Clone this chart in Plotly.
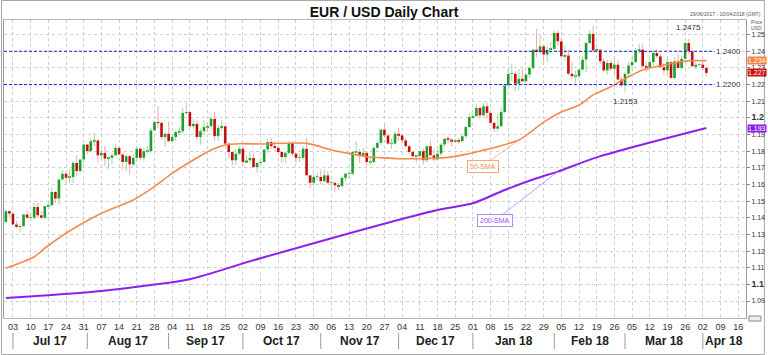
import pandas as pd
import plotly.graph_objects as go

# ---------------- data (EUR/USD daily, 29 Jun 2017 - 3 Apr 2018) ----------------
open_ = [
    1.1375, 1.1440,
    1.1425, 1.1360, 1.1345, 1.1350, 1.1420, 1.1400, 1.1400, 1.1465, 1.1415, 1.1400, 1.1470, 1.1475, 1.1555, 1.1515, 1.1630, 1.1665, 1.1640, 1.1645, 1.1730, 1.1680, 1.1750,
    1.1840, 1.1800, 1.1860, 1.1865, 1.1775, 1.1790, 1.1755, 1.1760, 1.1775, 1.1820, 1.1780, 1.1735, 1.1770, 1.1720, 1.1760, 1.1815, 1.1760, 1.1800, 1.1800, 1.1925, 1.1975, 1.1970, 1.1885,
    1.1905, 1.1860, 1.1885, 1.1915, 1.1920, 1.2030, 1.2035, 1.1950, 1.1965, 1.1885, 1.1920, 1.1945, 1.1950, 1.1995, 1.1890, 1.1940, 1.1950, 1.1845, 1.1795, 1.1745, 1.1785,
    1.1815, 1.1735, 1.1745, 1.1760, 1.1705, 1.1730, 1.1735, 1.1810, 1.1855, 1.1830, 1.1820, 1.1795, 1.1765, 1.1790, 1.1850, 1.1785, 1.1760, 1.1760, 1.1815, 1.1655, 1.1610, 1.1645,
    1.1645, 1.1620, 1.1655, 1.1610, 1.1610, 1.1595, 1.1590, 1.1640, 1.1665, 1.1665, 1.1795, 1.1795, 1.1770, 1.1790, 1.1735, 1.1735, 1.1820, 1.1850, 1.1930, 1.1895, 1.1845, 1.1845,
    1.1905, 1.1895, 1.1865, 1.1830, 1.1795, 1.1770, 1.1770, 1.1800, 1.1745, 1.1830, 1.1775, 1.1750, 1.1785, 1.1840, 1.1875, 1.1870, 1.1860, 1.1865, 1.1860, 1.1890, 1.1945,
    1.2005, 1.2010, 1.2060, 1.2015, 1.2070, 1.2030, 1.1970, 1.1935, 1.1950, 1.2035, 1.2195, 1.2265, 1.2265, 1.2205, 1.2235, 1.2220, 1.2260, 1.2300, 1.2410, 1.2395, 1.2430, 1.2380, 1.2410,
    1.2415, 1.2510, 1.2460, 1.2370, 1.2375, 1.2265, 1.2250, 1.2250, 1.2290, 1.2350, 1.2450, 1.2505, 1.2405, 1.2410, 1.2340, 1.2285, 1.2330, 1.2295, 1.2320, 1.2230,
    1.2195, 1.2265, 1.2315, 1.2335, 1.2405, 1.2410, 1.2310, 1.2305, 1.2335, 1.2390, 1.2370, 1.2305, 1.2285, 1.2335, 1.2240, 1.2340, 1.2300, 1.2355, 1.2450, 1.2400, 1.2310, 1.2320,
    1.2320, 1.2300,
]
high = [
    1.1445, 1.1445,
    1.1430, 1.1380, 1.1365, 1.1425, 1.1440, 1.1425, 1.1490, 1.1490, 1.1440, 1.1470, 1.1490, 1.1583, 1.1560, 1.1635, 1.1685, 1.1670, 1.1690, 1.1740, 1.1775, 1.1755, 1.1845,
    1.1845, 1.1870, 1.1910, 1.1870, 1.1810, 1.1830, 1.1770, 1.1790, 1.1845, 1.1830, 1.1790, 1.1780, 1.1780, 1.1780, 1.1825, 1.1825, 1.1820, 1.1830, 1.1940, 1.1985, 1.2070, 1.1980, 1.1915,
    1.1980, 1.1900, 1.1925, 1.1945, 1.2060, 1.2092, 1.2040, 1.1995, 1.1985, 1.1935, 1.1985, 1.1970, 1.2005, 1.2035, 1.1960, 1.1985, 1.1950, 1.1855, 1.1795, 1.1810, 1.1830,
    1.1825, 1.1775, 1.1795, 1.1785, 1.1730, 1.1760, 1.1815, 1.1875, 1.1880, 1.1860, 1.1835, 1.1800, 1.1795, 1.1860, 1.1860, 1.1785, 1.1785, 1.1830, 1.1880, 1.1660, 1.1665, 1.1670,
    1.1690, 1.1690, 1.1680, 1.1620, 1.1615, 1.1610, 1.1650, 1.1670, 1.1675, 1.1800, 1.1860, 1.1810, 1.1820, 1.1800, 1.1760, 1.1830, 1.1860, 1.1935, 1.1960, 1.1905, 1.1875, 1.1920,
    1.1940, 1.1905, 1.1880, 1.1840, 1.1805, 1.1775, 1.1800, 1.1815, 1.1830, 1.1865, 1.1815, 1.1810, 1.1850, 1.1880, 1.1890, 1.1880, 1.1875, 1.1880, 1.1900, 1.1950, 1.2025,
    1.2025, 1.2080, 1.2065, 1.2090, 1.2090, 1.2035, 1.1980, 1.2025, 1.2060, 1.2205, 1.2295, 1.2325, 1.2280, 1.2295, 1.2295, 1.2270, 1.2310, 1.2415, 1.2536, 1.2495, 1.2435, 1.2430, 1.2455,
    1.2525, 1.2520, 1.2480, 1.2435, 1.2410, 1.2335, 1.2285, 1.2300, 1.2370, 1.2455, 1.2525, 1.2555, 1.2425, 1.2415, 1.2360, 1.2350, 1.2345, 1.2355, 1.2345, 1.2245,
    1.2275, 1.2335, 1.2365, 1.2420, 1.2445, 1.2445, 1.2335, 1.2350, 1.2410, 1.2415, 1.2385, 1.2330, 1.2355, 1.2340, 1.2365, 1.2390, 1.2375, 1.2455, 1.2475, 1.2410, 1.2340, 1.2330,
    1.2340, 1.2310,
]
low = [
    1.1370, 1.1400,
    1.1357, 1.1340, 1.1312, 1.1345, 1.1390, 1.1385, 1.1390, 1.1400, 1.1390, 1.1390, 1.1450, 1.1470, 1.1490, 1.1480, 1.1625, 1.1610, 1.1610, 1.1610, 1.1650, 1.1670, 1.1730,
    1.1780, 1.1790, 1.1830, 1.1730, 1.1760, 1.1710, 1.1690, 1.1720, 1.1770, 1.1775, 1.1690, 1.1680, 1.1660, 1.1710, 1.1735, 1.1745, 1.1740, 1.1785, 1.1790, 1.1925, 1.1940, 1.1870, 1.1825,
    1.1855, 1.1850, 1.1860, 1.1895, 1.1905, 1.2020, 1.1940, 1.1935, 1.1870, 1.1840, 1.1905, 1.1915, 1.1930, 1.1860, 1.1860, 1.1920, 1.1840, 1.1760, 1.1715, 1.1720, 1.1775,
    1.1715, 1.1730, 1.1725, 1.1700, 1.1670, 1.1715, 1.1730, 1.1790, 1.1815, 1.1805, 1.1780, 1.1730, 1.1730, 1.1780, 1.1770, 1.1730, 1.1735, 1.1745, 1.1650, 1.1575, 1.1590, 1.1625,
    1.1600, 1.1615, 1.1600, 1.1575, 1.1555, 1.1570, 1.1585, 1.1620, 1.1635, 1.1655, 1.1775, 1.1730, 1.1765, 1.1720, 1.1715, 1.1730, 1.1815, 1.1840, 1.1880, 1.1840, 1.1815, 1.1840,
    1.1860, 1.1845, 1.1820, 1.1780, 1.1760, 1.1730, 1.1765, 1.1720, 1.1730, 1.1775, 1.1740, 1.1750, 1.1770, 1.1825, 1.1845, 1.1830, 1.1850, 1.1845, 1.1850, 1.1880, 1.1940,
    1.1995, 1.2005, 1.1995, 1.2005, 1.2000, 1.1955, 1.1915, 1.1920, 1.1945, 1.2030, 1.2190, 1.2220, 1.2165, 1.2165, 1.2215, 1.2215, 1.2240, 1.2290, 1.2365, 1.2385, 1.2335, 1.2335, 1.2385,
    1.2400, 1.2435, 1.2370, 1.2345, 1.2255, 1.2235, 1.2205, 1.2235, 1.2280, 1.2275, 1.2445, 1.2395, 1.2390, 1.2320, 1.2275, 1.2260, 1.2285, 1.2260, 1.2225, 1.2185,
    1.2153, 1.2250, 1.2280, 1.2330, 1.2385, 1.2305, 1.2275, 1.2300, 1.2315, 1.2360, 1.2300, 1.2260, 1.2260, 1.2240, 1.2230, 1.2300, 1.2290, 1.2350, 1.2385, 1.2305, 1.2290, 1.2310,
    1.2290, 1.2250,
]
close = [
    1.1440, 1.1425,
    1.1360, 1.1345, 1.1350, 1.1420, 1.1400, 1.1400, 1.1465, 1.1415, 1.1400, 1.1470, 1.1475, 1.1555, 1.1515, 1.1630, 1.1665, 1.1640, 1.1645, 1.1730, 1.1680, 1.1750, 1.1840,
    1.1800, 1.1860, 1.1865, 1.1775, 1.1790, 1.1755, 1.1760, 1.1775, 1.1820, 1.1780, 1.1735, 1.1770, 1.1720, 1.1760, 1.1815, 1.1760, 1.1800, 1.1800, 1.1925, 1.1975, 1.1970, 1.1885, 1.1905,
    1.1860, 1.1885, 1.1915, 1.1920, 1.2030, 1.2035, 1.1950, 1.1965, 1.1885, 1.1920, 1.1945, 1.1950, 1.1995, 1.1890, 1.1940, 1.1950, 1.1845, 1.1795, 1.1745, 1.1785, 1.1815,
    1.1735, 1.1745, 1.1760, 1.1705, 1.1730, 1.1735, 1.1810, 1.1855, 1.1830, 1.1820, 1.1795, 1.1765, 1.1790, 1.1850, 1.1785, 1.1760, 1.1760, 1.1815, 1.1655, 1.1610, 1.1645, 1.1645,
    1.1620, 1.1655, 1.1610, 1.1610, 1.1595, 1.1590, 1.1640, 1.1665, 1.1665, 1.1795, 1.1795, 1.1770, 1.1790, 1.1735, 1.1735, 1.1820, 1.1850, 1.1930, 1.1895, 1.1845, 1.1845, 1.1905,
    1.1895, 1.1865, 1.1830, 1.1795, 1.1770, 1.1770, 1.1800, 1.1745, 1.1830, 1.1775, 1.1750, 1.1785, 1.1840, 1.1875, 1.1870, 1.1860, 1.1865, 1.1860, 1.1890, 1.1945, 1.2005,
    1.2010, 1.2060, 1.2015, 1.2070, 1.2030, 1.1970, 1.1935, 1.1950, 1.2035, 1.2195, 1.2265, 1.2265, 1.2205, 1.2235, 1.2220, 1.2260, 1.2300, 1.2410, 1.2395, 1.2430, 1.2380, 1.2410, 1.2415,
    1.2510, 1.2460, 1.2370, 1.2375, 1.2265, 1.2250, 1.2250, 1.2290, 1.2350, 1.2450, 1.2505, 1.2405, 1.2410, 1.2340, 1.2285, 1.2330, 1.2295, 1.2320, 1.2230, 1.2195,
    1.2265, 1.2315, 1.2335, 1.2405, 1.2410, 1.2310, 1.2305, 1.2335, 1.2390, 1.2370, 1.2305, 1.2285, 1.2335, 1.2240, 1.2340, 1.2300, 1.2355, 1.2450, 1.2400, 1.2310, 1.2320, 1.2320,
    1.2300, 1.2270,
]

sma50_dates = ["2017-06-29", "2017-07-11", "2017-07-14", "2017-07-24", "2017-08-07", "2017-08-18",
               "2017-08-28", "2017-09-04", "2017-09-12", "2017-09-19", "2017-09-25", "2017-09-29",
               "2017-10-09", "2017-10-26", "2017-11-06", "2017-11-13", "2017-11-20", "2017-11-24",
               "2017-12-01", "2017-12-08", "2017-12-14", "2017-12-21", "2017-12-28", "2018-01-03",
               "2018-01-10", "2018-01-18", "2018-01-23", "2018-01-29", "2018-02-05", "2018-02-12",
               "2018-02-16", "2018-02-23", "2018-03-02", "2018-03-08", "2018-03-15", "2018-03-22",
               "2018-03-27", "2018-04-03"]
sma50 = [1.1097, 1.1166, 1.1217, 1.1307, 1.1427, 1.1507,
         1.1587, 1.1667, 1.1747, 1.1807, 1.1837, 1.1845,
         1.1843, 1.1847, 1.1807, 1.1787, 1.1767, 1.1761,
         1.1755, 1.1755, 1.1757, 1.1763, 1.1781, 1.1801,
         1.1827, 1.1867, 1.1910, 1.1975, 1.2035, 1.2077,
         1.2138, 1.2187, 1.2247, 1.2288, 1.2313, 1.2334,
         1.2344, 1.2344]

sma200_dates = ["2017-06-29", "2017-07-18", "2017-08-07", "2017-08-25", "2017-09-11", "2017-10-09",
                "2017-12-18", "2018-01-01", "2018-01-12", "2018-01-25", "2018-02-02", "2018-02-19",
                "2018-04-03"]
sma200 = [1.0918, 1.0936, 1.0960, 1.0996, 1.1031, 1.1157,
          1.1447, 1.1487, 1.1567, 1.1637, 1.1677, 1.1763,
          1.1939]

levels = [1.2400, 1.2200]
level_text = ["1.2400", "1.2200"]
swing_high_date, swing_high_text = "2018-03-27", "1.2475"
swing_low_date, swing_low_text = "2018-03-01", "1.2153"
last_tags = [(1.2345, "1.234", "#f7823f"), (1.2270, "1.227", "#c8120f"), (1.1935, "1.193", "#8a1ff0")]

day_labels = ["03", "10", "17", "24", "31", "07", "14", "21", "28", "04", "11", "18", "25",
              "02", "09", "16", "23", "30", "06", "13", "20", "27", "04", "11", "18", "25",
              "01", "08", "15", "22", "29", "05", "12", "19", "26", "05", "12", "19", "26",
              "02", "09", "16"]
month_starts = ["2017-07-03", "2017-08-01", "2017-09-01", "2017-10-02", "2017-11-01",
                "2017-12-01", "2018-01-01", "2018-02-01", "2018-03-01", "2018-04-02"]
month_labels = ["Jul 17", "Aug 17", "Sep 17", "Oct 17", "Nov 17",
                "Dec 17", "Jan 18", "Feb 18", "Mar 18", "Apr 18"]
y_ticks = [1.09, 1.10, 1.11, 1.12, 1.13, 1.14, 1.15, 1.16, 1.17, 1.18, 1.19,
           1.20, 1.21, 1.22, 1.23, 1.24, 1.25]
y_labels = ["1.09", "<b><span style='font-size:9px'>1.1</span></b>", "1.11", "1.12", "1.13",
            "1.14", "1.15", "1.16", "1.17", "1.18", "1.19",
            "<b><span style='font-size:9px'>1.2</span></b>", "1.21", "1.22", "1.23", "1.24", "1.25"]

# ---------------- x positions (trading-day index) ----------------
dates = pd.bdate_range("2017-06-29", "2018-04-03")
axis_days = pd.bdate_range("2017-06-29", "2018-04-20")
pos = {d: i for i, d in enumerate(axis_days)}
x = [pos[d] for d in dates]
assert len(x) == len(open_) == len(high) == len(low) == len(close)

def px(dstr):
    return pos[pd.Timestamp(dstr)]

tick_dates = pd.date_range("2017-07-03", "2018-04-16", freq="W-MON")
tickvals = [pos[d] for d in tick_dates]
XMIN, XMAX = -0.53, 209.2
YMIN, YMAX = 1.0798, 1.2588

UP, DN = "#1e9e2a", "#c0100f"
UPW, DNW = "#9fd89f", "#f3a7a7"

fig = go.Figure()

# candle bodies
for is_up, col in [(True, UP), (False, DN)]:
    sel = [i for i in range(len(x)) if (close[i] >= open_[i]) == is_up]
    fig.add_bar(x=[x[i] for i in sel],
                base=[min(open_[i], close[i]) for i in sel],
                y=[max(abs(close[i] - open_[i]), 0.00025) for i in sel],
                width=0.74, marker=dict(color=col, line=dict(width=0)),
                hoverinfo="skip")

# candle wicks (above / below body)
for is_up, col in [(True, UPW), (False, DNW)]:
    wx, wy = [], []
    for i in range(len(x)):
        if (close[i] >= open_[i]) != is_up:
            continue
        top, bot = max(open_[i], close[i]), min(open_[i], close[i])
        wx += [x[i], x[i], None, x[i], x[i], None]
        wy += [max(high[i], top), top, None, bot, min(low[i], bot), None]
    fig.add_scatter(x=wx, y=wy, mode="lines", line=dict(color=col, width=1), hoverinfo="skip")

# moving averages
fig.add_scatter(x=[px(d) for d in sma200_dates], y=sma200, mode="lines",
                line=dict(color="#8a22ee", width=2, shape="spline", smoothing=0.8), hoverinfo="skip")
fig.add_scatter(x=[px(d) for d in sma50_dates], y=sma50, mode="lines",
                line=dict(color="#f8894a", width=1.6, shape="spline", smoothing=0.8), hoverinfo="skip")

# ---------------- layout ----------------
PLOT_L, PLOT_R, PLOT_T, PLOT_B = 3, 749, 20, 318
W, H = 768, 355
pw, ph = PLOT_R - PLOT_L, PLOT_B - PLOT_T
def pxx(p):  # pixel -> paper x
    return (p - PLOT_L) / pw
def pyy(p):  # pixel -> paper y
    return (PLOT_B - p) / ph

FONT = "Liberation Sans, Arial, sans-serif"
shapes = []
for lv in levels:
    shapes.append(dict(type="line", xref="paper", yref="y", x0=0, x1=pxx(718), y0=lv, y1=lv,
                       line=dict(color="#1a1aff", width=1, dash="3px,2px")))
# month separators
for ms in month_starts:
    xs = px(ms)
    shapes.append(dict(type="line", xref="x", yref="paper", x0=xs, x1=xs, y0=pyy(349), y1=pyy(333),
                       line=dict(color="#9a9a9a", width=1)))
# outer border
shapes.append(dict(type="rect", xref="paper", yref="paper", x0=pxx(0.5), x1=pxx(767.5),
                   y0=pyy(354.5), y1=pyy(0.5), line=dict(color="#a8a8a8", width=1), layer="below"))
# small icon at axis corner
shapes.append(dict(type="rect", xref="paper", yref="paper", x0=pxx(752), x1=pxx(764),
                   y0=pyy(321), y1=pyy(316), line=dict(color="#888", width=1), fillcolor="#eee"))

annotations = []
for lv, t in zip(levels, level_text):
    annotations.append(dict(xref="paper", yref="y", x=pxx(731), y=lv, text=t, showarrow=False,
                            font=dict(size=8, color="#333", family=FONT), xanchor="center", yanchor="middle",
                            bgcolor="white"))
hi_i = dates.get_loc(pd.Timestamp(swing_high_date))
lo_i = dates.get_loc(pd.Timestamp(swing_low_date))
annotations.append(dict(x=x[hi_i], y=high[hi_i], text=swing_high_text, showarrow=False, yanchor="bottom",
                        yshift=5, font=dict(size=8, color="#333", family=FONT)))
annotations.append(dict(x=x[lo_i], y=low[lo_i], text=swing_low_text, showarrow=False, yanchor="top",
                        yshift=-3, font=dict(size=8, color="#333", family=FONT)))
# SMA labels
i50 = sma50_dates.index("2018-01-18")
annotations.append(dict(x=px(sma50_dates[i50]), y=sma50[i50], text="50-SMA", showarrow=True,
                        arrowhead=0, arrowwidth=0.8, arrowcolor="#f8a77a", ax=-36, ay=26,
                        font=dict(size=7, color="#f39060", family=FONT), bgcolor="white",
                        bordercolor="#f6a77a", borderwidth=1, borderpad=2))
i200 = sma200_dates.index("2018-02-02")
annotations.append(dict(x=px(sma200_dates[i200]), y=sma200[i200], text="200-SMA", showarrow=True,
                        arrowhead=0, arrowwidth=0.8, arrowcolor="#b784f5", ax=-63, ay=49,
                        font=dict(size=7, color="#9a4af0", family=FONT), bgcolor="white",
                        bordercolor="#b784f5", borderwidth=1, borderpad=2))
# last-value tags on the price axis
for val, t, col in last_tags:
    annotations.append(dict(xref="paper", yref="y", x=1, xshift=1, y=val, text=t, showarrow=False,
                            xanchor="left", yanchor="middle", bgcolor=col, borderpad=0,
                            font=dict(size=7, color="white", family=FONT)))
# month labels
ends = [px(m) for m in month_starts] + [XMAX]
for k, lab in enumerate(month_labels):
    annotations.append(dict(xref="x", yref="paper", x=(ends[k] + ends[k + 1]) / 2, y=pyy(341),
                            text=f"<b>{lab}</b>", showarrow=False, yanchor="middle",
                            font=dict(size=12, color="#222", family=FONT)))
# header texts
annotations.append(dict(xref="paper", yref="paper", x=pxx(766), y=pyy(14), text="29/06/2017 - 10/04/2018 (GMT)",
                        showarrow=False, xanchor="right", yanchor="middle",
                        font=dict(size=5, color="#555", family=FONT)))
annotations.append(dict(xref="paper", yref="paper", x=pxx(752), y=pyy(22), text="Price",
                        showarrow=False, xanchor="left", yanchor="middle", font=dict(size=5, color="#555", family=FONT)))
annotations.append(dict(xref="paper", yref="paper", x=pxx(752), y=pyy(28), text="USD",
                        showarrow=False, xanchor="left", yanchor="middle", font=dict(size=5, color="#555", family=FONT)))

fig.update_layout(
    width=W, height=H,
    margin=dict(l=PLOT_L, r=W - PLOT_R, t=PLOT_T, b=H - PLOT_B),
    paper_bgcolor="white", plot_bgcolor="white",
    showlegend=False, barmode="overlay",
    font=dict(family=FONT),
    title=dict(text="<b>EUR / USD Daily Chart</b>", x=0.5, xanchor="center", y=1 - 12 / H,
               yanchor="middle", font=dict(size=14, color="#111", family=FONT)),
    xaxis=dict(range=[XMIN, XMAX], tickmode="array", tickvals=tickvals, ticktext=day_labels,
               showgrid=True, gridcolor="#cfcfcf", griddash="dot", gridwidth=1,
               ticks="", tickfont=dict(size=9, color="#333", family=FONT),
               showline=True, linecolor="#b5b5b5", mirror=True, zeroline=False, fixedrange=True),
    yaxis=dict(range=[YMIN, YMAX], side="right", tickmode="array", tickvals=y_ticks, ticktext=y_labels,
               showgrid=True, gridcolor="#cfcfcf", griddash="dot", gridwidth=1,
               ticks="outside", ticklen=3, tickcolor="#888",
               tickfont=dict(size=7, color="#333", family=FONT),
               showline=True, linecolor="#9a9a9a", mirror=True, zeroline=False, fixedrange=True),
    shapes=shapes, annotations=annotations,
)

fig.write_html("out.html", config={"displayModeBar": False},
               post_script="document.body.style.margin='0';document.body.style.overflow='hidden';")
